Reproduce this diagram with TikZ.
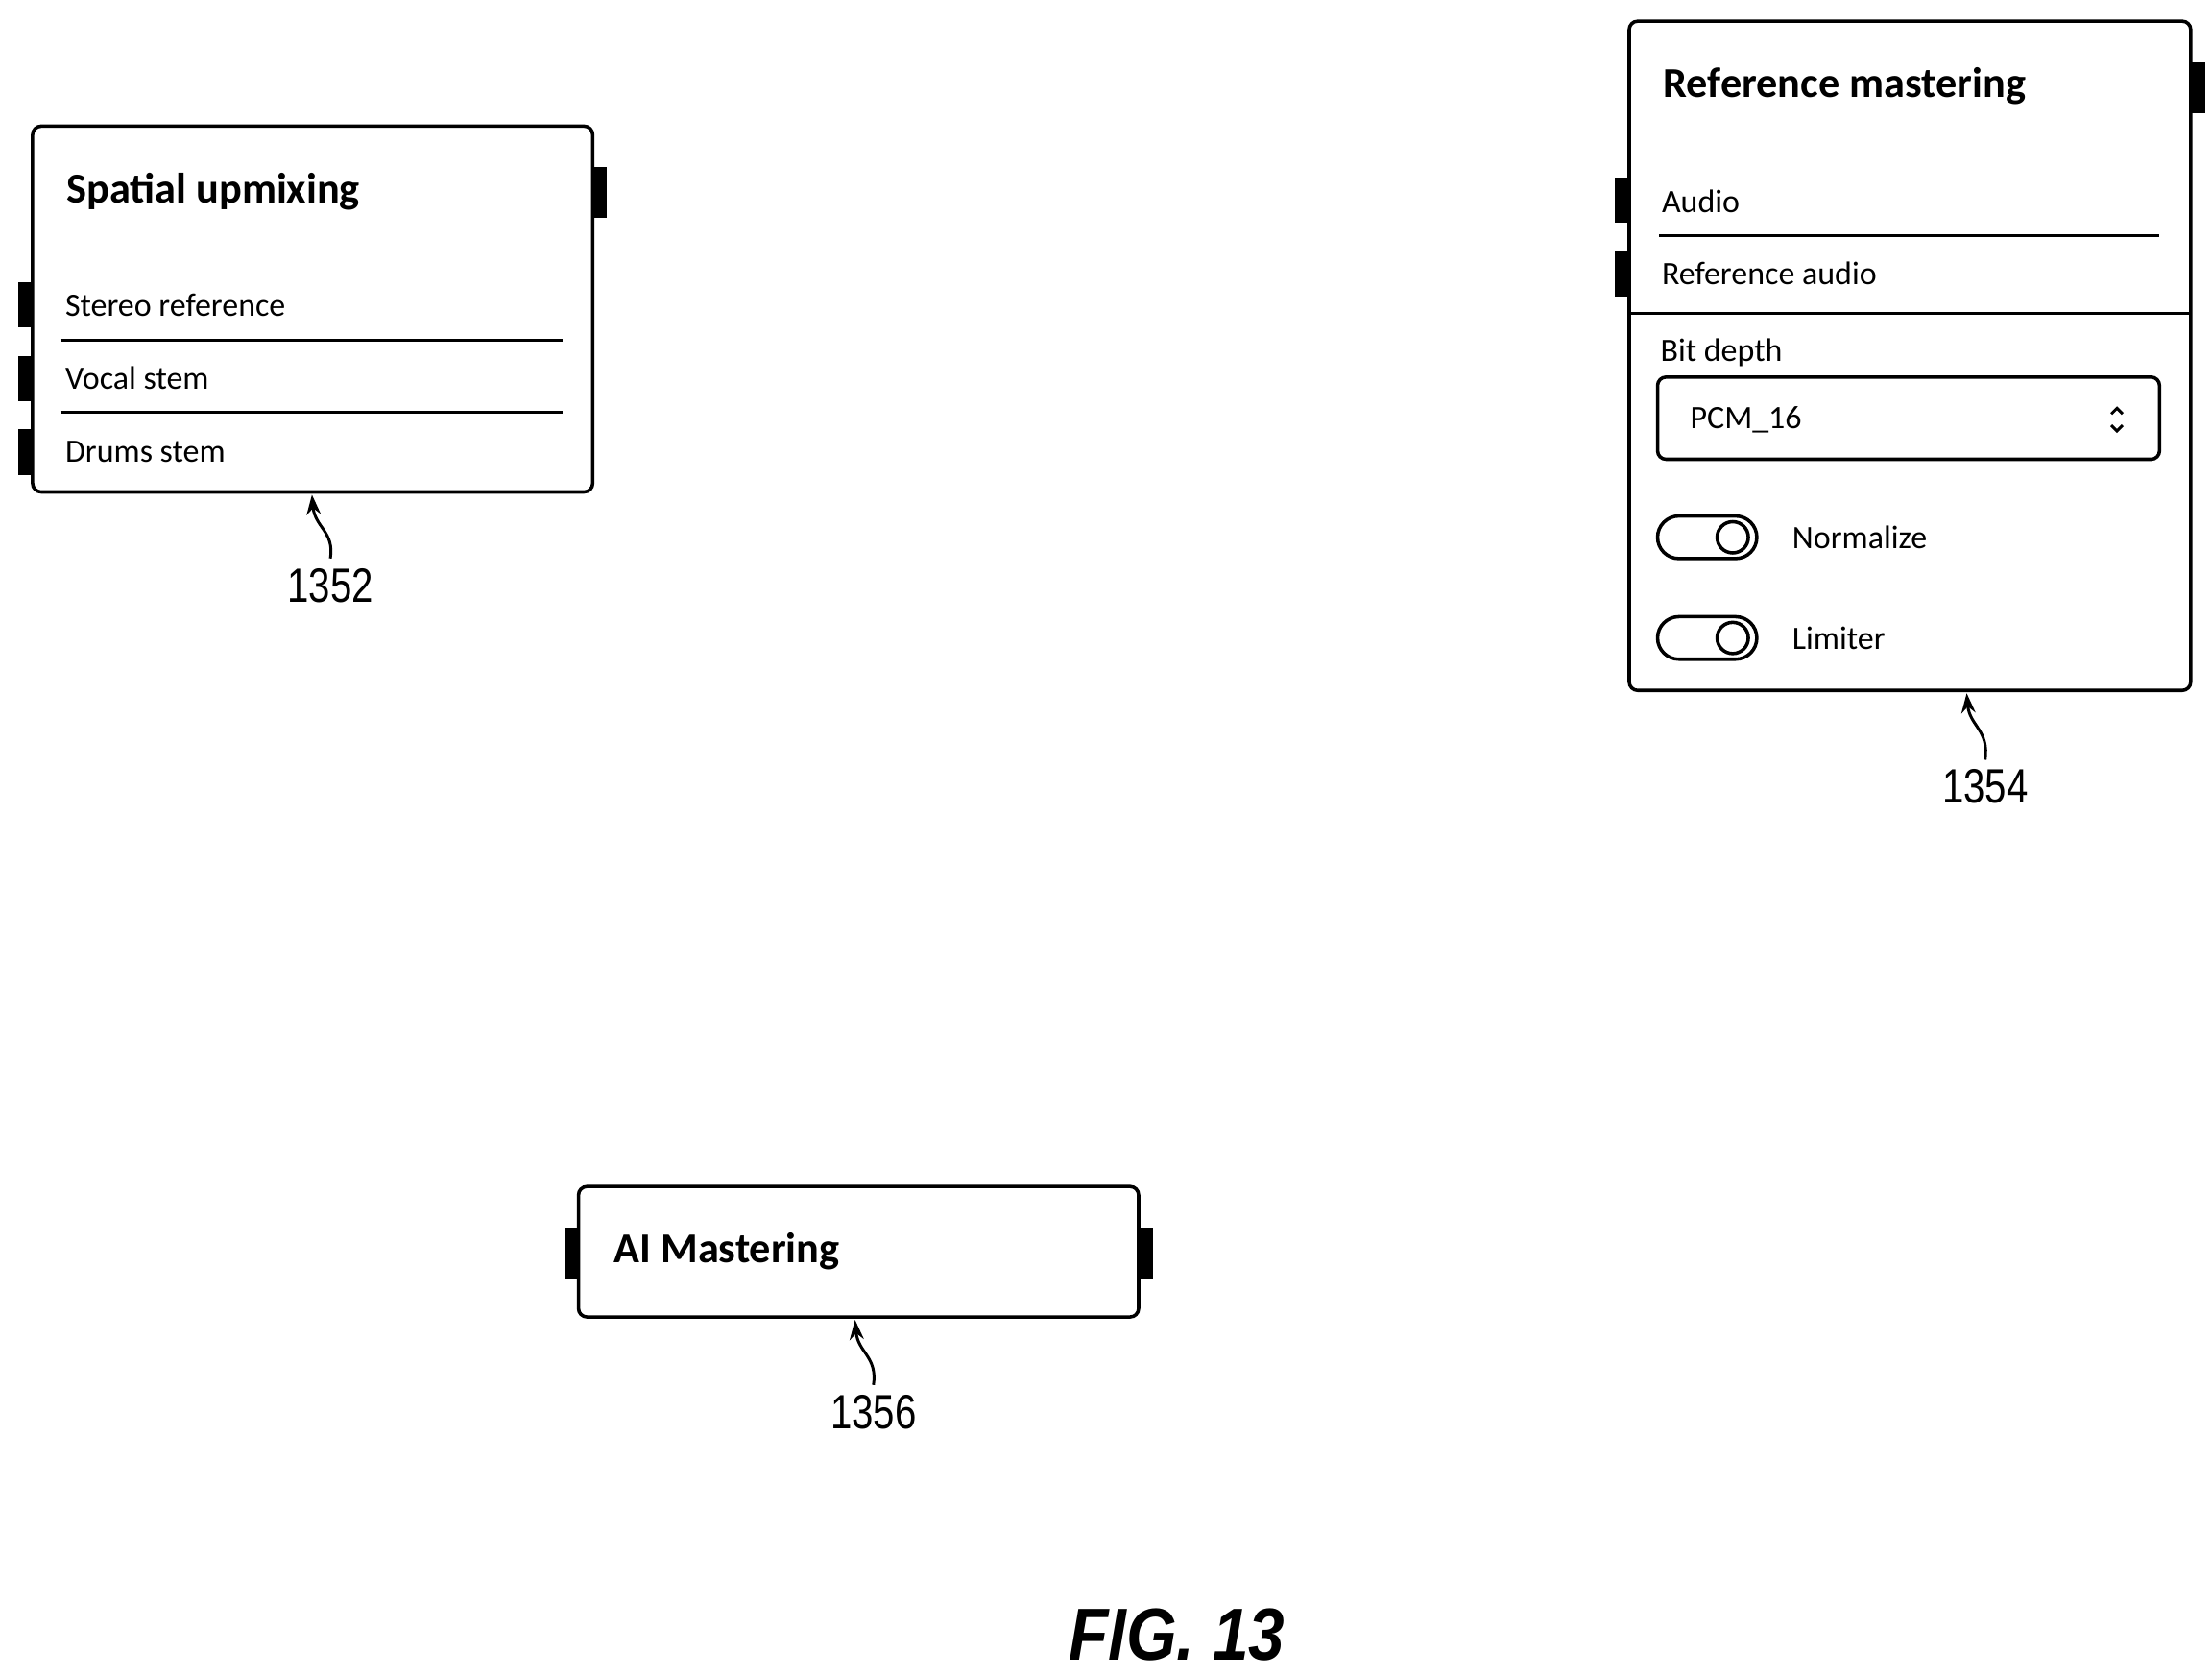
\documentclass[tikz,border=0pt]{standalone}
\usepackage{fontspec}
\setmainfont{Carlito}
\newfontfamily\figfont{Liberation Sans}
\usetikzlibrary{arrows.meta}
\begin{document}
\begin{tikzpicture}[x=0.5pt,y=-0.5pt,
  box/.style={draw,line width=1.2pt,rounded corners=3pt},
  port/.style={fill=black},
  title/.style={anchor=west,font=\fontsize{15}{18}\selectfont\bfseries},
  item/.style={anchor=west,font=\fontsize{11.5}{14}\selectfont},
  sep/.style={line width=1pt},
  lbl/.style={font=\figfont\fontsize{17}{20}\selectfont,xscale=0.8},
  lead/.style={line width=1pt,{Stealth[length=7pt,width=5pt]}-}]
\useasboundingbox (0,0) rectangle (1560,1181);
% Spatial upmixing
\draw[box] (23,89) rectangle (418,347);
\fill[port] (418,118) rectangle (428,154);
\foreach \y in {199,251,303} \fill[port] (13,\y) rectangle (23,\y+32);
\node[title] (t1) at (40,135) {Spatial upmixing};
\node[item] (s1) at (39,215) {Stereo reference};
\node[item] (s2) at (39,267) {Vocal stem};
\node[item] (s3) at (39,319) {Drums stem};
\draw[sep] (43,240) -- (397,240);
\draw[sep] (43,291) -- (397,291);
\coordinate (a1) at (220,349);
\node[lbl] (n1352) at (233,413) {1352};
\draw[lead] (a1) .. controls (222,372) and (236,375) .. (n1352.north);
% Reference mastering
\draw[box] (1149,15) rectangle (1545,487);
\fill[port] (1545,44) rectangle (1555,80);
\foreach \y in {125,177} \fill[port] (1139,\y) rectangle (1149,\y+32);
\node[title] (t2) at (1166,61) {Reference mastering};
\node[item] (r1) at (1165,142) {Audio};
\node[item] (r2) at (1165,193) {Reference audio};
\draw[sep] (1170,166) -- (1523,166);
\draw[sep] (1149,221) -- (1545,221);
\node[item] (bd) at (1164,249) {Bit depth};
\draw[box] (1169,266) rectangle (1523,324);
\node[item] (pcm) at (1185,296) {PCM\_16};
\draw[line width=1pt] (1489,292) -- (1493,288) -- (1497,292) (1489,300) -- (1493,304) -- (1497,300);
\foreach \y/\t in {379/Normalize,450/Limiter}{
  \draw[line width=1.2pt,rounded corners=7.5pt] (1169,\y-15) rectangle (1239,\y+15);
  \draw[line width=1.2pt] (1222,\y) circle[radius=11];
  \node[item] at (1257,\y) {\t};
}
\coordinate (a2) at (1387,489);
\node[lbl] (n1354) at (1400,555) {1354};
\draw[lead] (a2) .. controls (1389,512) and (1403,515) .. (n1354.north);
% AI Mastering
\draw[box] (408,837) rectangle (803,929);
\fill[port] (398,866) rectangle (408,902);
\fill[port] (803,866) rectangle (813,902);
\node[title] (t3) at (426,883) {AI Mastering};
\coordinate (a3) at (603,931);
\node[lbl] (n1356) at (616,996) {1356};
\draw[lead] (a3) .. controls (605,954) and (619,957) .. (n1356.north);
\node[font=\figfont\fontsize{26}{30}\selectfont\bfseries\itshape,xscale=0.88] (fig) at (830,1153) {FIG. 13};
\end{tikzpicture}
\end{document}
